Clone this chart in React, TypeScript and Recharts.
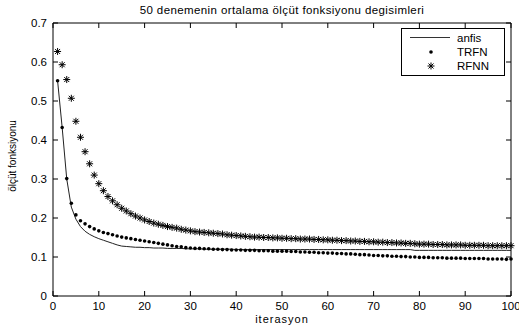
import React from "react";
import { LineChart, Line, XAxis, YAxis } from "recharts";

// iteration numbers 1..100
const iterations = Array.from({ length: 100 }, (_, i) => i + 1);

const anfis = [
  0.552, 0.432, 0.3, 0.228, 0.197, 0.178, 0.166, 0.158, 0.152, 0.147,
  0.143, 0.139, 0.135, 0.131, 0.128, 0.127, 0.126, 0.125, 0.125, 0.124,
  0.124, 0.123, 0.123, 0.123, 0.122, 0.122, 0.122, 0.122, 0.121, 0.121,
  0.121, 0.121, 0.12, 0.12, 0.12, 0.12, 0.12, 0.12, 0.12, 0.119,
  0.119, 0.119, 0.119, 0.119, 0.119, 0.119, 0.119, 0.119, 0.119, 0.119,
  0.119, 0.119, 0.119, 0.119, 0.119, 0.119, 0.119, 0.119, 0.119, 0.119,
  0.119, 0.119, 0.119, 0.119, 0.119, 0.119, 0.119, 0.119, 0.119, 0.119,
  0.119, 0.119, 0.119, 0.119, 0.119, 0.119, 0.119, 0.119, 0.117, 0.117,
  0.117, 0.117, 0.117, 0.117, 0.117, 0.117, 0.117, 0.117, 0.117, 0.117,
  0.117, 0.117, 0.117, 0.117, 0.117, 0.117, 0.117, 0.117, 0.117, 0.117,
];

const trfn = [
  0.552, 0.432, 0.301, 0.238, 0.208, 0.193, 0.185, 0.178, 0.172, 0.167,
  0.163, 0.16, 0.157, 0.154, 0.151, 0.149, 0.147, 0.145, 0.143, 0.141,
  0.139, 0.137, 0.135, 0.133, 0.131, 0.129, 0.127, 0.126, 0.124, 0.123,
  0.122, 0.122, 0.121, 0.121, 0.12, 0.12, 0.119, 0.119, 0.118, 0.118,
  0.118, 0.117, 0.117, 0.117, 0.116, 0.116, 0.116, 0.115, 0.115, 0.115,
  0.115, 0.114, 0.114, 0.113, 0.113, 0.112, 0.112, 0.111, 0.111, 0.11,
  0.11, 0.109, 0.109, 0.108, 0.108, 0.107, 0.106, 0.106, 0.105, 0.104,
  0.104, 0.103, 0.103, 0.102, 0.102, 0.101, 0.101, 0.1, 0.1, 0.099,
  0.099, 0.099, 0.098, 0.098, 0.098, 0.097, 0.097, 0.097, 0.097, 0.096,
  0.096, 0.096, 0.096, 0.096, 0.095, 0.095, 0.095, 0.095, 0.094, 0.095,
];

const rfnn = [
  0.627, 0.593, 0.555, 0.507, 0.448, 0.407, 0.37, 0.339, 0.31, 0.288,
  0.27, 0.255, 0.244, 0.234, 0.225, 0.218, 0.211, 0.205, 0.2, 0.195,
  0.191, 0.187, 0.184, 0.181, 0.178, 0.176, 0.174, 0.171, 0.169, 0.167,
  0.165, 0.164, 0.163, 0.162, 0.161, 0.16, 0.159, 0.157, 0.156, 0.155,
  0.154, 0.153, 0.152, 0.151, 0.151, 0.15, 0.15, 0.149, 0.149, 0.148,
  0.148, 0.147, 0.147, 0.146, 0.146, 0.146, 0.145, 0.145, 0.144, 0.144,
  0.143, 0.143, 0.142, 0.142, 0.141, 0.141, 0.14, 0.14, 0.139, 0.139,
  0.138, 0.138, 0.137, 0.137, 0.136, 0.136, 0.135, 0.135, 0.134, 0.133,
  0.133, 0.133, 0.132, 0.132, 0.132, 0.131, 0.131, 0.131, 0.131, 0.13,
  0.13, 0.13, 0.13, 0.13, 0.129, 0.129, 0.129, 0.129, 0.129, 0.129,
];

const xTicks = [0, 10, 20, 30, 40, 50, 60, 70, 80, 90, 100];
const yTicks = [0, 0.1, 0.2, 0.3, 0.4, 0.5, 0.6, 0.7];

const data = iterations.map((x, i) => ({
  x,
  anfis: anfis[i],
  trfn: trfn[i],
  rfnn: rfnn[i],
}));

const font = "'Liberation Sans', Arial, sans-serif";
const TICK_LEN = 5;
const BOTTOM_GAP = 5.5;
const LEFT_GAP = 6;

// MATLAB-style tick: short line pointing into the plot, label outside
const InTick = (props: any) => {
  const { x, y, payload, side } = props;
  if (x == null || y == null) return null;
  const label = String(payload?.value ?? "");
  if (side === "bottom") {
    const ay = y - BOTTOM_GAP;
    return (
      <g>
        <line x1={x} y1={ay} x2={x} y2={ay - TICK_LEN} stroke="#000" />
        <text x={x} y={y} dy="0.71em" textAnchor="middle" fontSize={11.5} fontFamily={font} fill="#000">
          {label}
        </text>
      </g>
    );
  }
  if (side === "left") {
    const ax = x + LEFT_GAP;
    return (
      <g>
        <line x1={ax} y1={y} x2={ax + TICK_LEN} y2={y} stroke="#000" />
        <text x={x} y={y} dy="0.355em" textAnchor="end" fontSize={11.5} fontFamily={font} fill="#000">
          {label}
        </text>
      </g>
    );
  }
  if (side === "top") {
    return <line x1={x} y1={y} x2={x} y2={y + TICK_LEN} stroke="#000" />;
  }
  return <line x1={x} y1={y} x2={x - TICK_LEN} y2={y} stroke="#000" />;
};

const Dot = (props: any) => {
  const { cx, cy } = props;
  if (cx == null || cy == null) return null;
  return <circle cx={cx} cy={cy} r={1.8} fill="#000" stroke="none" />;
};

const Star = (props: any) => {
  const { cx, cy } = props;
  if (cx == null || cy == null) return null;
  const r = 3.5;
  const d = 2.5;
  return (
    <g stroke="#000" strokeWidth={1}>
      <line x1={cx - r} y1={cy} x2={cx + r} y2={cy} />
      <line x1={cx} y1={cy - r} x2={cx} y2={cy + r} />
      <line x1={cx - d} y1={cy - d} x2={cx + d} y2={cy + d} />
      <line x1={cx - d} y1={cy + d} x2={cx + d} y2={cy - d} />
    </g>
  );
};

function LegendBox() {
  return (
    <svg
      width={104}
      height={48}
      style={{ position: "absolute", left: 401, top: 28 }}
    >
      <rect x={0.5} y={0.5} width={103} height={47} fill="#fff" stroke="#000" />
      <line x1={9} y1={9.5} x2={49} y2={9.5} stroke="#333" />
      <circle cx={30} cy={24} r={1.8} fill="#000" />
      <Star cx={30} cy={38} />
      <g fontFamily={font} fontSize={11.5} fill="#000">
        <text x={56} y={13.5}>anfis</text>
        <text x={56} y={28}>TRFN</text>
        <text x={56} y={42}>RFNN</text>
      </g>
    </svg>
  );
}

export default function App() {
  return (
    <div
      style={{
        position: "absolute",
        left: 0,
        top: 0,
        width: 519,
        height: 330,
        background: "#fff",
        fontFamily: font,
      }}
    >
      <div
        style={{
          position: "absolute",
          left: 53,
          width: 458,
          top: 4,
          textAlign: "center",
          fontSize: 11.5,
          letterSpacing: 0.4,
        }}
      >
        50 denemenin ortalama ölçüt fonksiyonu degisimleri
      </div>
      <LineChart
        width={519}
        height={330}
        data={data}
        margin={{ top: 22, right: 7, bottom: 0, left: 0 }}
      >
        <XAxis
          dataKey="x"
          type="number"
          domain={[0, 100]}
          ticks={xTicks}
          height={34}
          tickSize={0}
          tickMargin={BOTTOM_GAP}
          tickLine={false}
          stroke="#000"
          tick={<InTick side="bottom" />}
          interval={0}
        />
        <XAxis
          xAxisId="top"
          orientation="top"
          dataKey="x"
          type="number"
          domain={[0, 100]}
          ticks={xTicks}
          height={1}
          tickSize={0}
          tickMargin={0}
          tickLine={false}
          tick={<InTick side="top" />}
          stroke="#000"
          interval={0}
        />
        <YAxis
          type="number"
          domain={[0, 0.7]}
          ticks={yTicks}
          width={53}
          tickSize={0}
          tickMargin={LEFT_GAP}
          tickLine={false}
          stroke="#000"
          tick={<InTick side="left" />}
          interval={0}
        />
        <YAxis
          yAxisId="right"
          orientation="right"
          type="number"
          domain={[0, 0.7]}
          ticks={yTicks}
          width={1}
          tickSize={0}
          tickMargin={0}
          tickLine={false}
          tick={<InTick side="right" />}
          stroke="#000"
          interval={0}
        />
        {/* invisible series so the top / right frame axes get their ticks */}
        <Line
          xAxisId="top"
          yAxisId="right"
          dataKey="anfis"
          stroke="none"
          dot={false}
          activeDot={false}
          legendType="none"
          isAnimationActive={false}
        />
        <Line
          dataKey="anfis"
          stroke="#222"
          strokeWidth={1}
          dot={false}
          isAnimationActive={false}
        />
        <Line
          dataKey="trfn"
          stroke="none"
          dot={<Dot />}
          activeDot={false}
          isAnimationActive={false}
        />
        <Line
          dataKey="rfnn"
          stroke="none"
          dot={<Star />}
          activeDot={false}
          isAnimationActive={false}
        />
      </LineChart>
      <LegendBox />
      <div
        style={{
          position: "absolute",
          left: 53,
          width: 458,
          top: 313,
          textAlign: "center",
          fontSize: 11,
          letterSpacing: 1,
        }}
      >
        iterasyon
      </div>
      <div
        style={{
          position: "absolute",
          left: 12,
          top: 156,
          transform: "translate(-50%, -50%) rotate(-90deg)",
          fontSize: 10,
          whiteSpace: "nowrap",
        }}
      >
        ölçüt fonksiyonu
      </div>
    </div>
  );
}
